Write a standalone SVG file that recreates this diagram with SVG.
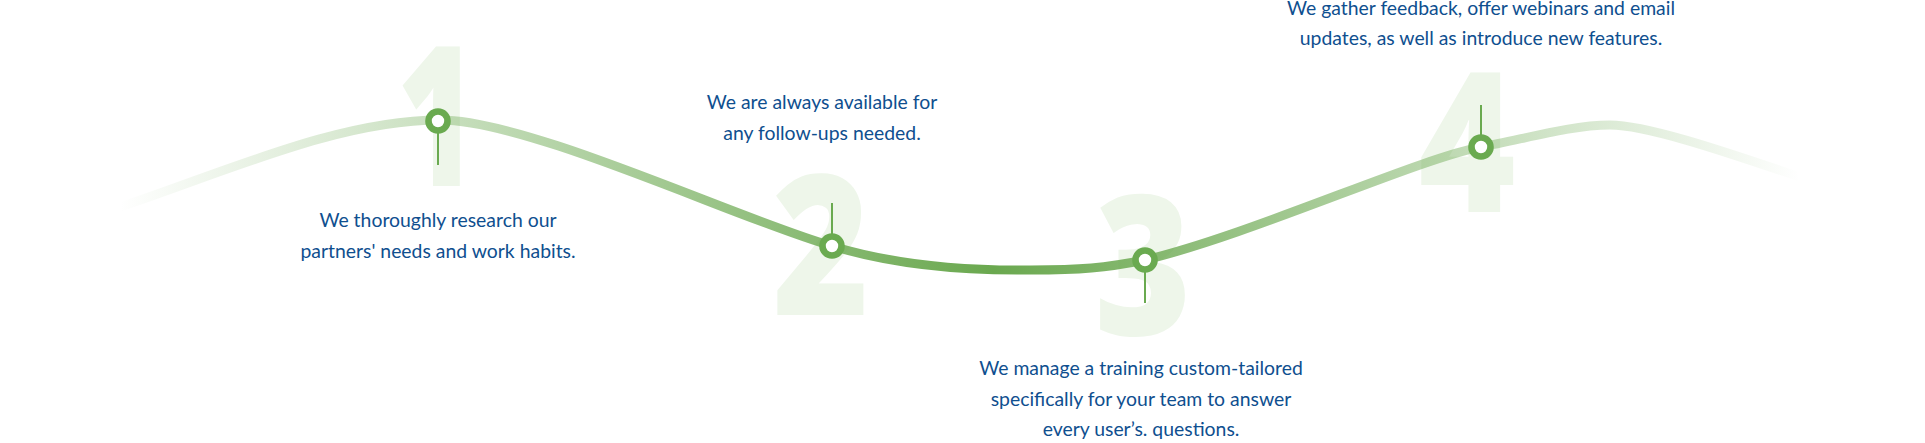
<svg xmlns="http://www.w3.org/2000/svg" width="1925" height="443" viewBox="0 0 1925 443">
<defs>
<linearGradient id="wave" gradientUnits="userSpaceOnUse" x1="120" y1="0" x2="1800" y2="0">
<stop offset="0" stop-color="#6aa84f" stop-opacity="0"/>
<stop offset="0.52" stop-color="#6aa84f" stop-opacity="1"/>
<stop offset="1" stop-color="#6aa84f" stop-opacity="0"/>
</linearGradient>
<style>
.digit{font-family:"Open Sans","Liberation Sans",sans-serif;font-weight:800;font-size:195px;fill:#eef6ea;text-anchor:middle}
.lbl{font-family:Lato,"Liberation Sans",sans-serif;font-size:19.4px;fill:#0f4f8f;text-anchor:middle}
.dot{fill:#ffffff;stroke:#6aaa50;stroke-width:6.6}
.stem{stroke:#6aaa50;stroke-width:2}
</style>
</defs>
<rect width="1925" height="443" fill="#ffffff"/>
<g id="digits">
<text class="digit" transform="translate(437,186) scale(0.7,1)">1</text>
<text class="digit" transform="translate(821,315) scale(0.85,1)">2</text>
<text class="digit" transform="translate(1143,335) scale(0.85,1)">3</text>
<text class="digit" transform="translate(1467,212) scale(0.85,1)">4</text>
</g>
<g id="connectors">
<path d="M120,207 C230,170 340,120 440,120 C530,120 740,220 832,246 C895,265 960,271 1031,270 C1080,270 1105,268 1145,260 C1250,235 1420,158 1481,147 C1521,140 1570,125 1610,125 C1650,125 1740,157 1800,177" fill="none" stroke="url(#wave)" stroke-width="9" stroke-linecap="round"/>
<line class="stem" x1="438" y1="121" x2="438" y2="165"/>
<line class="stem" x1="832" y1="246" x2="832" y2="203"/>
<line class="stem" x1="1145" y1="260" x2="1145" y2="303"/>
<line class="stem" x1="1481" y1="147" x2="1481" y2="105"/>
</g>
<g id="node1">
<circle class="dot" cx="438" cy="121" r="9.5"/>
<text class="lbl" x="438" y="227">We thoroughly research our</text>
<text class="lbl" x="438" y="258">partners' needs and work habits.</text>
</g>
<g id="node2">
<circle class="dot" cx="832" cy="246" r="9.5"/>
<text class="lbl" x="822" y="109">We are always available for</text>
<text class="lbl" x="822" y="140">any follow-ups needed.</text>
</g>
<g id="node3">
<circle class="dot" cx="1145" cy="260" r="9.5"/>
<text class="lbl" x="1141" y="375">We manage a training custom-tailored</text>
<text class="lbl" x="1141" y="406">specifically for your team to answer</text>
<text class="lbl" x="1141" y="436">every user’s. questions.</text>
</g>
<g id="node4">
<circle class="dot" cx="1481" cy="147" r="9.5"/>
<text class="lbl" x="1481" y="15">We gather feedback, offer webinars and email</text>
<text class="lbl" x="1481" y="45">updates, as well as introduce new features.</text>
</g>
</svg>
